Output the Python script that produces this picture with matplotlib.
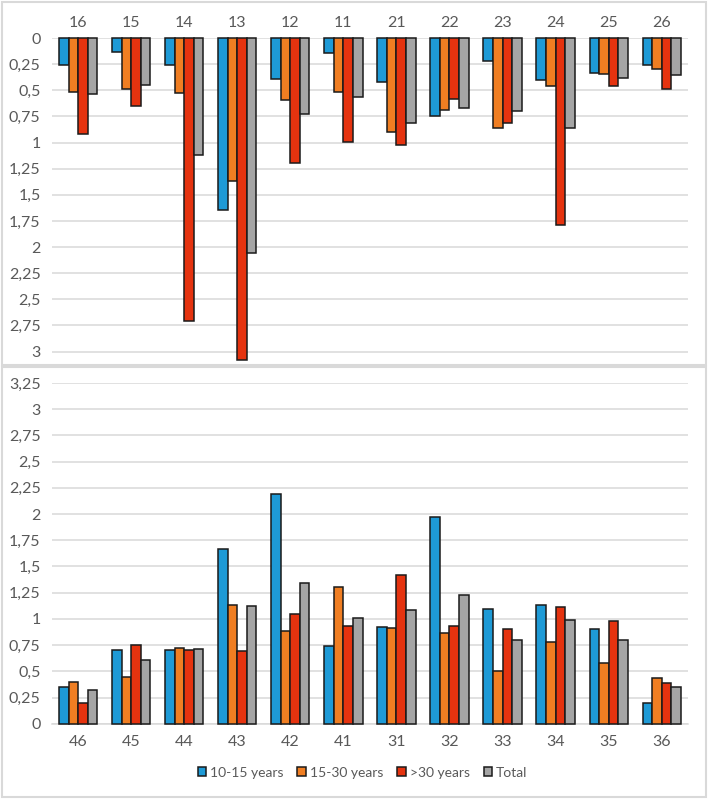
import matplotlib.pyplot as plt
import numpy as np
from matplotlib.patches import Rectangle
from matplotlib.ticker import FuncFormatter, MultipleLocator


SERIES = ["10-15 years", "15-30 years", ">30 years", "Total"]
COLORS = ["#1E9AD6", "#F07E22", "#E5330F", "#A5A5A5"]

# upper chart (values drawn downwards)
upper_teeth = ["16", "15", "14", "13", "12", "11", "21", "22", "23", "24", "25", "26"]
upper_young = [0.26, 0.13, 0.26, 1.65, 0.39, 0.14, 0.42, 0.75, 0.22, 0.40, 0.33, 0.26]
upper_mid = [0.52, 0.49, 0.53, 1.37, 0.59, 0.52, 0.90, 0.69, 0.86, 0.46, 0.34, 0.30]
upper_old = [0.92, 0.65, 2.71, 3.08, 1.20, 0.99, 1.02, 0.58, 0.81, 1.79, 0.46, 0.49]
upper_total = [0.54, 0.45, 1.12, 2.06, 0.73, 0.56, 0.81, 0.67, 0.70, 0.86, 0.38, 0.35]

# lower chart
lower_teeth = ["46", "45", "44", "43", "42", "41", "31", "32", "33", "34", "35", "36"]
lower_young = [0.35, 0.70, 0.70, 1.67, 2.19, 0.74, 0.92, 1.97, 1.09, 1.13, 0.90, 0.20]
lower_mid = [0.40, 0.45, 0.72, 1.13, 0.88, 1.30, 0.91, 0.87, 0.50, 0.78, 0.58, 0.44]
lower_old = [0.20, 0.75, 0.70, 0.69, 1.05, 0.93, 1.42, 0.93, 0.90, 1.11, 0.98, 0.39]
lower_total = [0.32, 0.61, 0.71, 1.12, 1.34, 1.01, 1.08, 1.23, 0.80, 0.99, 0.80, 0.35]

TEXT = "#595959"
GRID = "#D9D9D9"

plt.rcParams["font.family"] = ["Lato", "DejaVu Sans"]


def comma(v, pos):
    return f"{v:g}".replace(".", ",")


def draw_bars(ax, labels, groups):
    x = np.arange(len(labels))
    width = 0.18
    for i, values in enumerate(groups):
        pos = x + (i - 1.5) * width
        ax.bar(pos, values, width=width, color=COLORS[i], edgecolor="#1a1a1a",
               linewidth=1.1, label=SERIES[i], zorder=3, clip_on=False)
    ax.set_xticks(x)
    ax.set_xticklabels(labels)
    ax.set_xlim(-0.5, len(labels) - 0.5)
    ax.yaxis.set_major_locator(MultipleLocator(0.25))
    ax.yaxis.set_major_formatter(FuncFormatter(comma))
    ax.grid(axis="y", color=GRID, linewidth=1.1, zorder=0)
    for side in ["left", "right", "top", "bottom"]:
        ax.spines[side].set_visible(False)
    ax.tick_params(length=0, colors=TEXT, labelsize=11.5, pad=8)


fig = plt.figure(figsize=(7.08, 7.99), dpi=100)

# chart frames
fig.patches.append(Rectangle((0.003, 0.543), 0.994, 0.455, transform=fig.transFigure,
                             fill=False, edgecolor="#D9D9D9", linewidth=1.5))
fig.patches.append(Rectangle((0.003, 0.003), 0.994, 0.538, transform=fig.transFigure,
                             fill=False, edgecolor="#D9D9D9", linewidth=1.5))

ax_top = fig.add_axes([0.073, 0.5469, 0.899, 0.4055])
draw_bars(ax_top, upper_teeth, [upper_young, upper_mid, upper_old, upper_total])
ax_top.set_ylim(3.1, 0)
ax_top.set_yticks(np.arange(0, 3.01, 0.25))
ax_top.xaxis.tick_top()
ax_top.tick_params(axis="x", pad=6)

ax_bot = fig.add_axes([0.073, 0.0942, 0.899, 0.4265])
draw_bars(ax_bot, lower_teeth, [lower_young, lower_mid, lower_old, lower_total])
ax_bot.set_ylim(0, 3.25)
ax_bot.spines["bottom"].set_visible(True)
ax_bot.spines["bottom"].set_color(GRID)
ax_bot.spines["bottom"].set_linewidth(1.1)

handles, labels = ax_bot.get_legend_handles_labels()
fig.legend(handles, labels, loc="center", bbox_to_anchor=(0.512, 0.033), ncol=4,
           frameon=False, fontsize=10, labelcolor=TEXT, handlelength=0.6,
           handleheight=0.6, handletextpad=0.3, columnspacing=1.0)

fig.savefig("out.png", dpi=100)
